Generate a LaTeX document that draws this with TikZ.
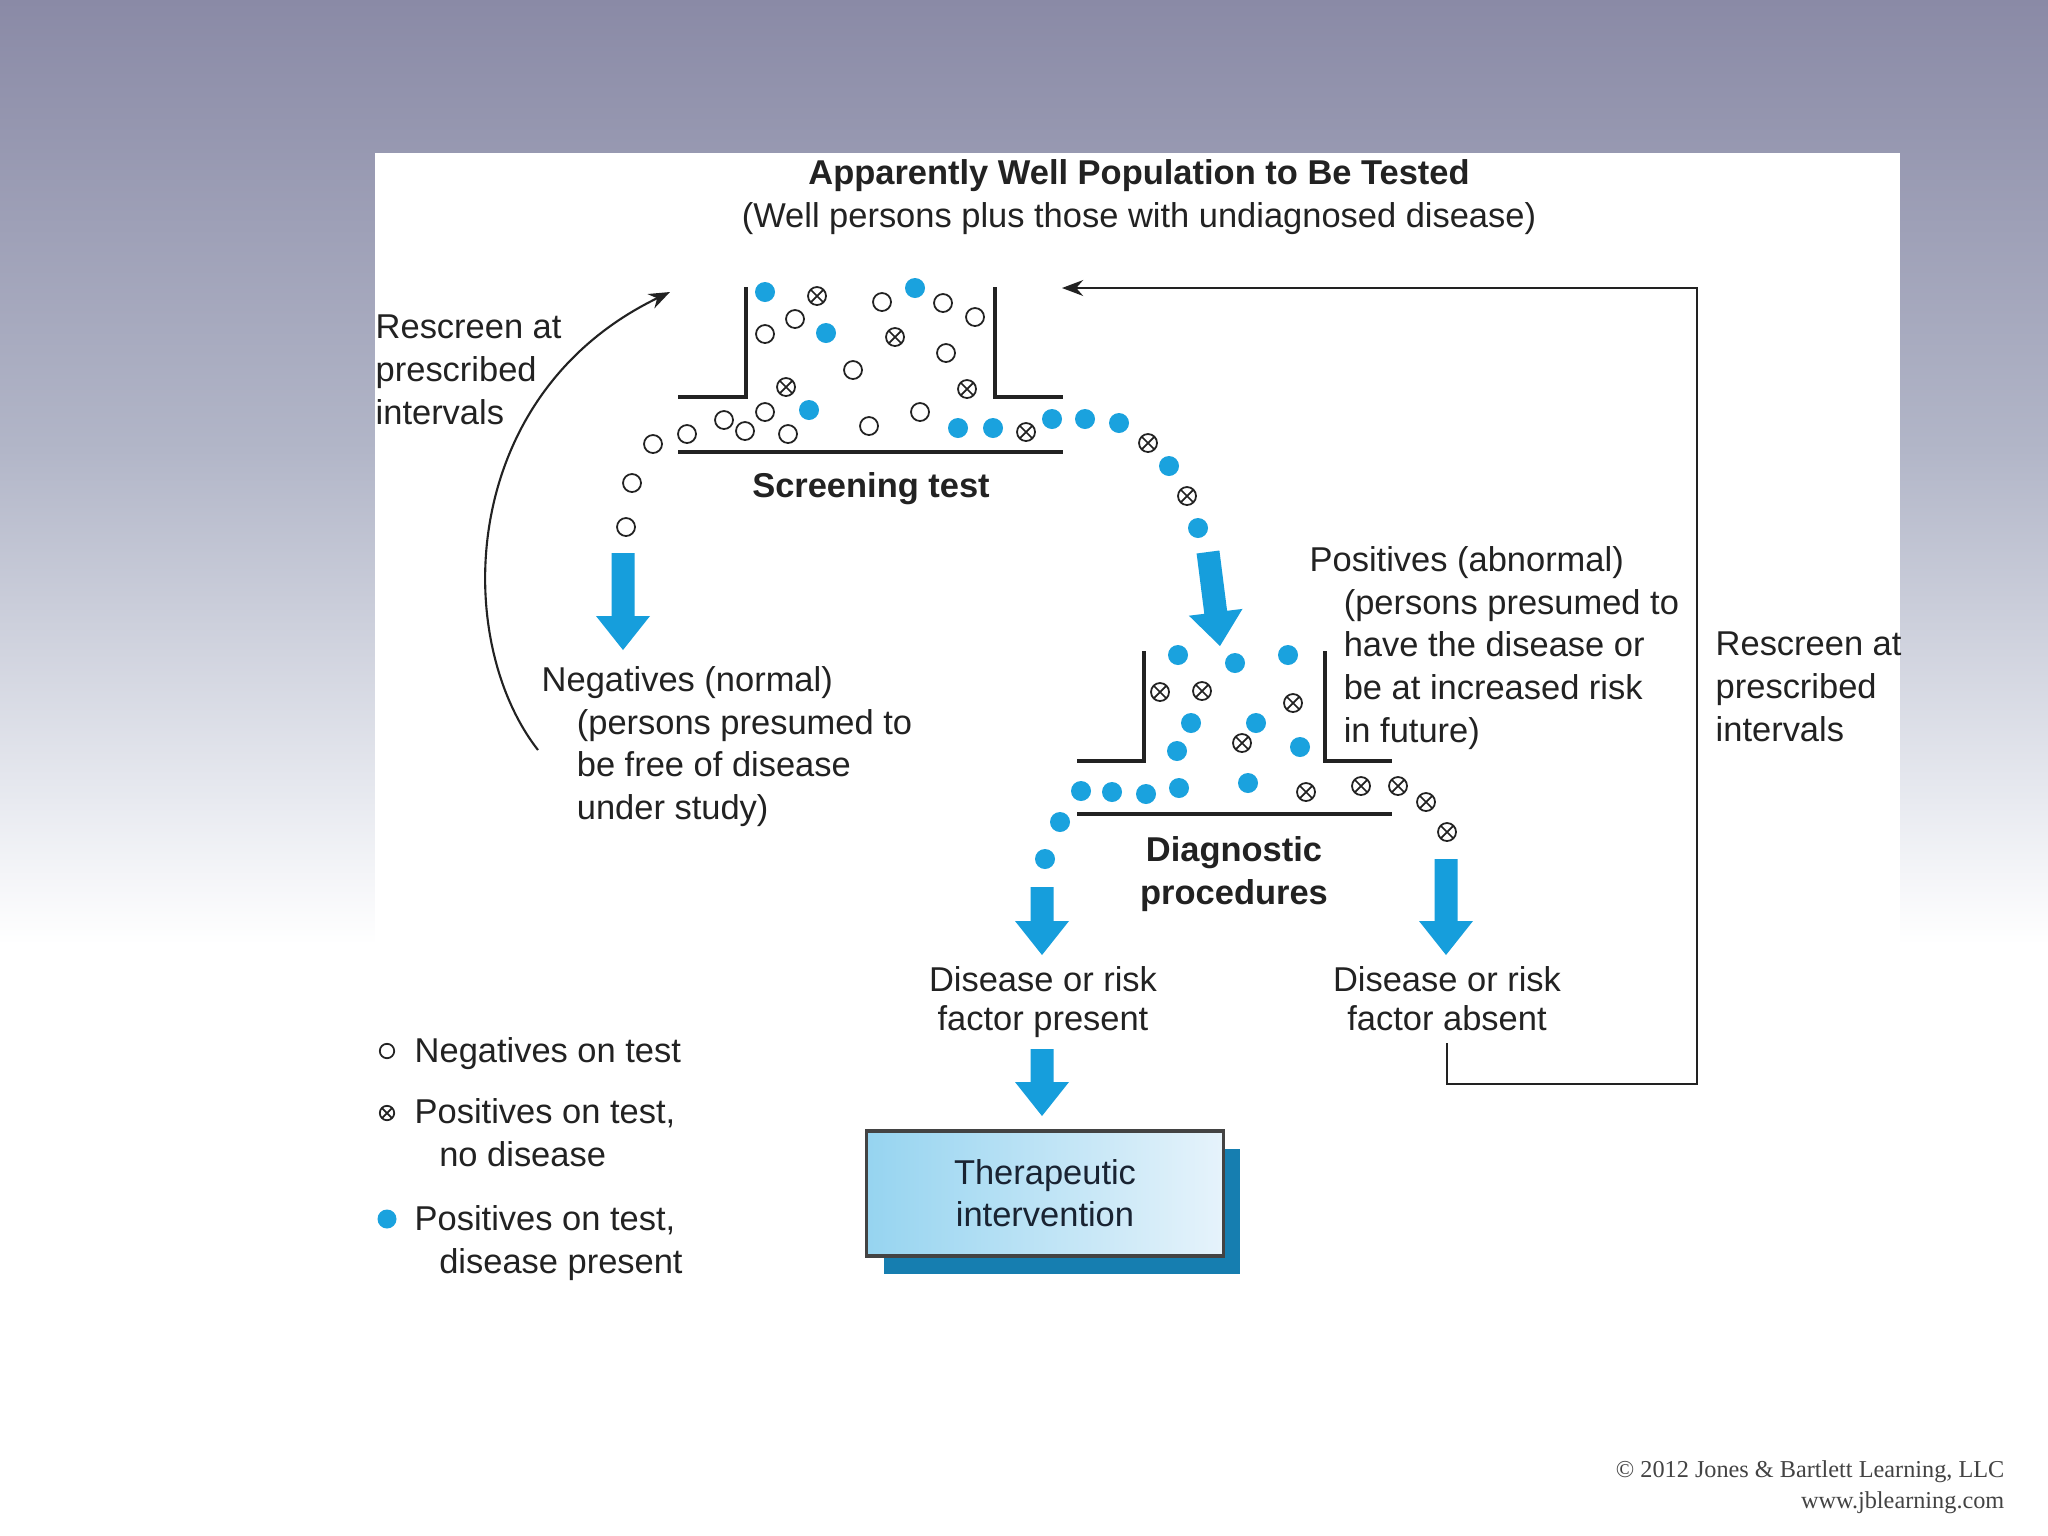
\documentclass[tikz,border=0pt]{standalone}
\usepackage{fontspec}
\setmainfont{Liberation Sans}
\newfontfamily\cpfont{Liberation Serif}
\usetikzlibrary{arrows.meta,shadows}
\definecolor{bgtop}{RGB}{138,138,166}
\definecolor{bgmid}{RGB}{178,182,200}
\definecolor{bglow}{RGB}{232,234,240}
\definecolor{dotblue}{RGB}{26,162,222}
\definecolor{arrblue}{RGB}{22,158,220}
\definecolor{ink}{RGB}{34,34,34}
\definecolor{boxleft}{RGB}{150,212,240}
\definecolor{boxright}{RGB}{230,243,251}
\definecolor{shadowc}{RGB}{22,126,176}
\definecolor{boxtext}{RGB}{25,35,50}
\newcommand\bigarr[3]{%
  \fill[arrblue] (#1-11.5,#2) -- (#1+11.5,#2) -- (#1+11.5,#3-34) -- (#1+27,#3-34)
    -- (#1,#3) -- (#1-27,#3-34) -- (#1-11.5,#3-34) -- cycle;}
\begin{document}
\begin{tikzpicture}[x=0.01cm,y=-0.01cm,
  txt/.style={font=\fontsize{9.8}{12.2}\selectfont, text=ink, inner sep=0pt, align=left},
  btxt/.style={txt, font=\fontsize{9.8}{12.2}\selectfont\bfseries},
  wall/.style={draw=ink, line width=1pt, line join=miter},
  conn/.style={draw=ink, line width=0.6pt},
  negd/.pic={\draw[ink, line width=0.5pt, fill=white] (0,0) circle (9);},
  posd/.pic={\draw[ink, line width=0.5pt, fill=white] (0,0) circle (9);
             \draw[ink, line width=0.5pt] (-6,-6) -- (6,6) (-6,6) -- (6,-6);},
  disd/.pic={\fill[dotblue] (0,0) circle (10);}
]
\useasboundingbox (0,0) rectangle (2048,1536);
% background
\fill[white] (0,0) rectangle (2048,1536);
\fill[top color=bgtop, bottom color=bgmid] (0,0) rectangle (2048,452);
\fill[top color=bgmid, bottom color=bglow] (0,450) rectangle (2048,802);
\fill[top color=bglow, bottom color=white] (0,800) rectangle (2048,945);
\fill[white] (375,153) rectangle (1900,965);

% title
\node[txt, align=center, anchor=north] (title) at (1139,158.5)
  {{\bfseries Apparently Well Population to Be Tested}\\(Well persons plus those with undiagnosed disease)};

% screening test container
\draw[wall] (678,397) -- (746,397) -- (746,287);
\draw[wall] (995,287) -- (995,397) -- (1063,397);
\draw[wall] (678,452) -- (1063,452);
\node[btxt, anchor=base] (scr) at (871,497) {Screening test};

% diagnostic container
\draw[wall] (1077,761) -- (1144,761) -- (1144,651);
\draw[wall] (1325,651) -- (1325,761) -- (1392,761);
\draw[wall] (1077,814) -- (1392,814);
\node[btxt, align=center, anchor=north] (diag) at (1234,835.5) {Diagnostic\\procedures};

% dots
\foreach \p in {(795,319),(765,334),(882,302),(943,303),(975,317),(946,353),(853,370),
  (765,412),(724,420),(745,431),(788,434),(687,434),(869,426),(920,412),(653,444),(632,483),(626,527)}
  \pic at \p {negd};
\foreach \p in {(817,296),(895,337),(786,387),(967,389),(1026,432),(1148,443),(1187,496),
  (1160,692),(1202,691),(1293,703),(1242,743),(1306,792),(1361,786),(1398,786),(1426,802),(1447,832)}
  \pic at \p {posd};
\foreach \p in {(765,292),(826,333),(915,288),(809,410),(958,428),(993,428),(1052,419),(1085,419),
  (1119,423),(1169,466),(1198,528),
  (1178,655),(1235,663),(1288,655),(1191,723),(1256,723),(1177,751),(1300,747),(1081,791),
  (1112,792),(1146,794),(1179,788),(1248,783),(1060,822),(1045,859)}
  \pic at \p {disd};

% big arrows
\bigarr{623}{553}{650}
\fill[arrblue] (1196.6,553.5) -- (1219.4,550.5) -- (1227.1,610.8) -- (1242.5,608.9)
  -- (1220,646) -- (1188.9,615.7) -- (1204.3,613.8) -- cycle;
\bigarr{1042}{887}{955}
\bigarr{1446}{859}{955}
\bigarr{1042}{1049}{1116}

% texts
\node[txt, anchor=north west] (lrs) at (375,314.5) {Rescreen at\\prescribed\\intervals};
\node[txt, anchor=north west] (negtxt) at (541,665.5)
  {Negatives (normal)\\\hspace*{10pt}(persons presumed to\\\hspace*{10pt}be free of disease\\\hspace*{10pt}under study)};
\node[txt, anchor=north west] (postxt) at (1309,545.5)
  {Positives (abnormal)\\\hspace*{9.7pt}(persons presumed to\\\hspace*{9.7pt}have the disease or\\\hspace*{9.7pt}be at increased risk\\\hspace*{9.7pt}in future)};
\node[txt, anchor=north west] (rrs) at (1715,631.5) {Rescreen at\\prescribed\\intervals};
\node[txt, align=center, anchor=north, font=\fontsize{9.8}{11.1}\selectfont] (dpres) at (1043,965.5)
  {Disease or risk\\factor present};
\node[txt, align=center, anchor=north, font=\fontsize{9.8}{11.1}\selectfont] (dabs) at (1447,965.5)
  {Disease or risk\\factor absent};

% therapeutic box
\node[draw=ink!85, line width=0.9pt, left color=boxleft, right color=boxright,
  minimum width=3.56cm, minimum height=1.25cm, inner sep=0pt, align=center,
  font=\fontsize{9.8}{12}\selectfont, text=boxtext,
  general shadow={fill=shadowc, shadow xshift=0.17cm, shadow yshift=-0.18cm}]
  (ther) at (1045,1193.5) {Therapeutic\\intervention};

% connectors
\coordinate (lc0) at (538,750);
\coordinate (lc1) at (670,292);
\draw[conn, -{Stealth[length=6pt,width=4.5pt]}] (lc0) .. controls (452,640) and (457,395) .. (lc1);
\coordinate (rc1) at (1697,1084);
\coordinate (rc2) at (1697,288);
\coordinate (scrin) at (1062,288);
\draw[conn, -{Stealth[length=6pt,width=4.5pt]}] ([yshift=-0.12cm]dabs.south) |- (rc1) -- (rc2) -- (scrin);

% legend
\pic[scale=0.8] at (387,1051) {negd};
\pic[scale=0.8] at (387,1113) {posd};
\pic[scale=0.95] at (387,1219) {disd};
\node[txt, anchor=base west] (leg1) at (414,1062) {Negatives on test};
\node[txt, anchor=north west] (leg2) at (414,1097.5) {Positives on test,\\\hspace*{7pt}no disease};
\node[txt, anchor=north west] (leg3) at (414,1204.5) {Positives on test,\\\hspace*{7pt}disease present};

% copyright
\node[anchor=north east, align=right, inner sep=0pt, text=ink!85,
  font=\cpfont\fontsize{6.9}{8.8}\selectfont] (copy) at (2005,1460)
  {© 2012 Jones \& Bartlett Learning, LLC\\www.jblearning.com};
\end{tikzpicture}
\end{document}
